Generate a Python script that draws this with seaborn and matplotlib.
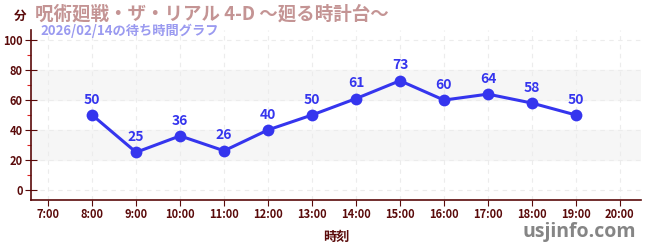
import matplotlib
matplotlib.use("Agg")
import matplotlib.pyplot as plt
import seaborn as sns
import pandas as pd
from matplotlib.ticker import MultipleLocator

hours = [8, 9, 10, 11, 12, 13, 14, 15, 16, 17, 18, 19]
waits = [50, 25, 36, 26, 40, 50, 61, 73, 60, 64, 58, 50]
tick_hours = list(range(7, 21))
tick_labels = [f"{h}:00" for h in tick_hours]
title = "呪術廻戦・ザ・リアル 4-D 〜廻る時計台〜"
subtitle = "2026/02/14の待ち時間グラフ"

sns.set_theme(style="white")
plt.rcParams['font.family'] = ['Noto Sans CJK JP', 'DejaVu Sans']

df = pd.DataFrame({"hour": hours, "wait": waits})
fig = plt.figure(figsize=(6.5, 2.5), dpi=100)
ax = fig.add_axes([31/650, 1 - 200/250, 610/650, 170/250])

dark = "#5a0a0a"
line_c = "#3535ee"

ax.axhspan(20, 40, color="#f6f6f6", zorder=0)
ax.axhspan(60, 80, color="#f6f6f6", zorder=0)
for h in tick_hours:
    ax.axvline(h, color="#ececec", lw=0.8, ls=(0, (4, 4)), zorder=0.5)
for v in [0, 20, 40, 60, 80, 100]:
    ax.axhline(v, color="#ececec", lw=0.8, ls=(0, (4, 4)), zorder=0.5)

sns.lineplot(data=df, x="hour", y="wait", ax=ax, color=line_c, lw=2.2,
             marker="o", markersize=8.5, markeredgewidth=0, zorder=3)
for h, w in zip(hours, waits):
    ax.annotate(str(w), (h, w), xytext=(0, 6), textcoords="offset points",
                ha="center", va="bottom", color=line_c, fontsize=10, fontweight="bold")

ax.set_xlim(6.61, 20.48)
ax.set_ylim(-7, 107)
ax.set_xticks(tick_hours)
ax.set_xticklabels(tick_labels)
ax.set_yticks([0, 20, 40, 60, 80, 100])
ax.yaxis.set_minor_locator(MultipleLocator(10))
ax.tick_params(axis="both", which="major", colors=dark, labelsize=8, length=4, width=0.8, direction="out")
ax.tick_params(axis="y", which="minor", colors="#dd2222", length=3, width=0.8, left=True)
ax.tick_params(axis="x", which="major", labelsize=8, pad=2)
ax.tick_params(axis="y", which="major", pad=2)
ax.tick_params(axis="both", which="major", bottom=True, left=True)
ax.tick_params(axis="y", which="major", direction="inout", length=8)
for lab in ax.get_xticklabels() + ax.get_yticklabels():
    lab.set_fontweight("bold")
for s in ["top", "right"]:
    ax.spines[s].set_visible(False)
for s in ["left", "bottom"]:
    ax.spines[s].set_color(dark)
    ax.spines[s].set_linewidth(1.2)
ax.set_xlabel("時刻", color=dark, fontsize=9.5, fontweight="bold", labelpad=6)
ax.set_ylabel("")

fig.text(20/650, 1 - 16/250, "分", color=dark, fontsize=9, fontweight="bold", ha="center", va="center")
fig.text(35/650, 1 - 14/250, title, color="#c49494", fontsize=13.3, fontweight="bold", ha="left", va="center")
fig.text(40/650, 1 - 31/250, subtitle, color="#9a9af0", fontsize=9.5, fontweight="bold", ha="left", va="center")
fig.text(636/650, 1 - 232/250, "usjinfo.com", color="#858585", fontsize=14, fontweight="bold",
         ha="right", va="center", family=["Open Sans", "DejaVu Sans"])

fig.savefig("out.png", dpi=100)
